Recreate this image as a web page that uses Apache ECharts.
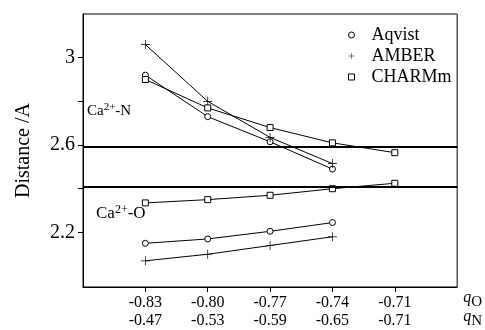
<!DOCTYPE html>
<html>
<head>
<meta charset="utf-8">
<script src="https://cdn.jsdelivr.net/npm/echarts@6/dist/echarts.min.js"></script>
<style>
  html, body { margin: 0; padding: 0; background: #fff; }
  #chart { width: 485px; height: 330px; }
</style>
</head>
<body>
<div id="chart"></div>
<script>
// charge values on the two x label rows
var qO = [-0.83, -0.80, -0.77, -0.74, -0.71];
var qNLabels = ['-0.47', '-0.53', '-0.59', '-0.65', '-0.71'];
var qOLabels = ['-0.83', '-0.80', '-0.77', '-0.74', '-0.71'];

// Ca2+-N distances
var aqvistN = [2.92, 2.73, 2.615, 2.49];
var amberN = [3.06, 2.80, 2.635, 2.515];
var charmmN = [2.90, 2.77, 2.68, 2.61, 2.565];
// Ca2+-O distances
var aqvistO = [2.15, 2.17, 2.205, 2.245];
var amberO = [2.07, 2.10, 2.14, 2.18];
var charmmO = [2.335, 2.35, 2.37, 2.40, 2.425];

// reference (experimental) distances, horizontal lines
var refLines = [2.586, 2.414];

var yTicks = [2.2, 2.4, 2.6, 2.8, 3.0];
var yLabels = [2.2, 2.6, 3.0];

var plusPath = 'path://M4.6,0h0.8v4.6h4.6v0.8h-4.6v4.6h-0.8v-4.6h-4.6v-0.8h4.6z';
var squarePath = 'path://M0,0h10v10h-10z';

function pairs(vals){
	var out = [];
	for (var i = 0; i < vals.length; i++){
		out.push([qO[i], vals[i]]);
	}
	return out;
}

var font = 'Liberation Serif';

function mkSeries(name, vals, symbol, size, fill){
	return {
		name: name,
		type: 'line',
		data: pairs(vals),
		symbol: symbol,
		symbolSize: size,
		showSymbol: true,
		animation: false,
		lineStyle: {color: '#000', width: 1},
		itemStyle: {color: fill, borderColor: '#000', borderWidth: 1}
	};
}

var series = [
	mkSeries('Aqvist', aqvistN, 'circle', 6, '#fff'),
	mkSeries('AMBER', amberN, plusPath, 9, '#000'),
	mkSeries('CHARMm', charmmN, 'rect', 6, '#fff'),
	mkSeries('Aqvist', aqvistO, 'circle', 6, '#fff'),
	mkSeries('AMBER', amberO, plusPath, 9, '#000'),
	mkSeries('CHARMm', charmmO, 'rect', 6, '#fff')
];
series[1].itemStyle.borderWidth = 0;
series[4].itemStyle.borderWidth = 0;
series[0].markLine = {
	silent: true,
	symbol: 'none',
	label: {show: false},
	lineStyle: {color: '#000', width: 2, type: 'solid'},
	data: refLines.map(function(v){ return {yAxis: v}; })
};

var chart = echarts.init(document.getElementById('chart'));
chart.setOption({
	backgroundColor: '#fff',
	animation: false,
	textStyle: {fontFamily: font, color: '#000'},
	grid: {
		left: 83, right: 25, top: 14, bottom: 41,
		show: true, borderColor: '#000', borderWidth: 1
	},
	legend: {
		orient: 'vertical',
		left: 343, top: 21,
		itemGap: 3,
		itemWidth: 30, itemHeight: 6,
		symbolKeepAspect: true,
		textStyle: {fontFamily: font, fontSize: 18, color: '#000'},
		data: [
			{name: 'Aqvist', icon: 'circle', itemStyle: {color: '#fff', borderColor: '#000', borderWidth: 1}},
			{name: 'AMBER', icon: plusPath, itemStyle: {color: '#000', borderWidth: 0}},
			{name: 'CHARMm', icon: squarePath, itemStyle: {color: '#fff', borderColor: '#000', borderWidth: 1}}
		]
	},
	xAxis: {
		type: 'value',
		min: -0.86, max: -0.68,
		splitLine: {show: false},
		axisLine: {lineStyle: {color: '#000', width: 1}},
		axisTick: {customValues: qO, length: 5, lineStyle: {color: '#000'}},
		axisLabel: {
			customValues: qO,
			color: '#000', fontFamily: font, fontSize: 16, lineHeight: 18, margin: 7,
			formatter: function(v){
				for (var i = 0; i < qO.length; i++){
					if (Math.abs(qO[i] - v) < 1e-6) return qOLabels[i] + '\n' + qNLabels[i];
				}
				return '';
			}
		},
		name: '{q|q}{s|O}\n{q|q}{s|N}',
		nameLocation: 'end',
		nameGap: 6,
		nameTextStyle: {
			verticalAlign: 'top',
			padding: [3, 0, 0, 0],
			rich: {
				q: {fontFamily: font, fontStyle: 'italic', fontSize: 16, color: '#000', lineHeight: 19, verticalAlign: 'top'},
				s: {fontFamily: font, fontSize: 15, color: '#000', lineHeight: 19, padding: [6, 0, 0, 0]}
			}
		}
	},
	yAxis: {
		type: 'value',
		min: 1.95, max: 3.2,
		splitLine: {show: false},
		axisLine: {lineStyle: {color: '#000', width: 1}},
		axisTick: {customValues: yTicks, length: 5, lineStyle: {color: '#000'}},
		axisLabel: {customValues: yLabels, color: '#000', fontFamily: font, fontSize: 20, margin: 8},
		name: 'Distance /A',
		nameLocation: 'middle',
		nameGap: 49,
		nameTextStyle: {fontFamily: font, fontSize: 20, color: '#000'}
	},
	graphic: [
		{
			type: 'text', left: 87, top: 102,
			style: {
				text: '{b|Ca}{u|2+}{b|-N}',
				rich: {
					b: {fontFamily: font, fontSize: 15, fill: '#000'},
					u: {fontFamily: font, fontSize: 11, fill: '#000', padding: [0, 0, 7, 0]}
				}
			}
		},
		{
			type: 'text', left: 96, top: 204,
			style: {
				text: '{b|Ca}{u|2+}{b|-O}',
				rich: {
					b: {fontFamily: font, fontSize: 17, fill: '#000'},
					u: {fontFamily: font, fontSize: 12, fill: '#000', padding: [0, 0, 8, 0]}
				}
			}
		}
	],
	series: series
});
</script>
</body>
</html>
